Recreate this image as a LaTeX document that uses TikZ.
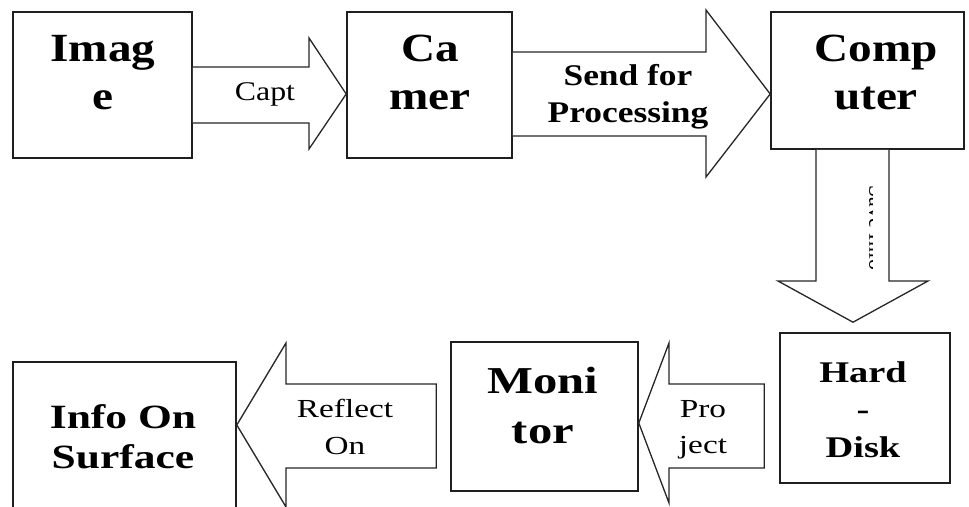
\documentclass[tikz,border=0pt]{standalone}
\usepackage{fontspec}
\setmainfont{Liberation Serif}
\newfontfamily\topf{Liberation Serif}[FakeStretch=1.18]
\newfontfamily\botf{Liberation Serif}[FakeStretch=1.28]
\usetikzlibrary{calc}
\begin{document}
\begin{tikzpicture}[x=1pt,y=-1pt,
  box/.style={draw=black!88,line width=1.6pt,inner sep=0pt,fill=white},
  barrow/.style={draw=black!85,line width=1.3pt,line join=miter,fill=white},
  lbl/.style={align=center,inner sep=0pt,text=black}]
\useasboundingbox (0,0) rectangle (969,506);
\clip (0,0) rectangle (969,506);

% boxes
\node[box,minimum width=179pt,minimum height=146pt] (img)  at (102.5,85) {};
\node[box,minimum width=165pt,minimum height=146pt] (cam)  at (429.5,85) {};
\node[box,minimum width=193pt,minimum height=137pt] (comp) at (867.5,80.5) {};
\node[box,minimum width=170pt,minimum height=150pt] (hd)   at (865,408) {};
\node[box,minimum width=187pt,minimum height=149pt] (mon)  at (544.5,416.5) {};
\node[box,minimum width=223pt,minimum height=200pt] (info) at (124.5,462) {};

% block arrows
\draw[barrow] ([yshift=18pt]img.east) -- (309,67) -- (309,38) -- ([yshift=-9pt]cam.west)
  -- (309,149) -- (309,123) -- ([yshift=-38pt]img.east);
\draw[barrow] ([yshift=33pt]cam.east) -- (706,52) -- (706,10) -- ([yshift=-13.5pt]comp.west)
  -- (706,177) -- (706,136) -- ([yshift=-51pt]cam.east);
\draw[barrow] ([xshift=-51.5pt]comp.south) -- (816,281) -- (778,281) -- ([xshift=-12pt,yshift=10pt]hd.north)
  -- (928,281) -- (889,281) -- ([xshift=21.5pt]comp.south);
\draw[barrow] ([xshift=-15pt,yshift=24pt]hd.west) -- (669,384) -- (669,343) -- ([yshift=-6.5pt]mon.east)
  -- (669,503) -- (669,468) -- ([xshift=-15pt,yshift=-60pt]hd.west) -- cycle;
\draw[barrow] ([xshift=-14pt,yshift=32.5pt]mon.west) -- (286,384) -- (286,343) -- ([yshift=37pt]info.east)
  -- (286,507) -- (286,468) -- ([xshift=-14pt,yshift=-51.5pt]mon.west) -- cycle;

% box texts
\node[lbl,font=\topf\bfseries\fontsize{40}{48}\selectfont] (imgt)  at (103,72.5) {Imag\\e};
\node[lbl,font=\topf\bfseries\fontsize{40}{48}\selectfont] (camt)  at (430,72.5) {Ca\\mer};
\node[lbl,font=\topf\bfseries\fontsize{40}{48}\selectfont] (compt) at (876,72.5) {Comp\\uter};
\node[lbl,font=\botf\bfseries\fontsize{30}{37.5}\selectfont] (hdt)  at (863,409.5) {Hard\\-\\Disk};
\node[lbl,font=\botf\bfseries\fontsize{38}{50}\selectfont] (mont)  at (543,405.5) {Moni\\tor};
\node[lbl,font=\botf\bfseries\fontsize{34}{40}\selectfont] (infot) at (123,437) {Info On\\Surface};

% arrow texts
\node[lbl,anchor=base,font=\topf\fontsize{27}{32}\selectfont] (captt) at (265,100) {Capt};
\node[lbl,font=\topf\bfseries\fontsize{30}{37}\selectfont] (sendt) at (628,96.5) {Send for\\Processing};
\node[lbl,font=\botf\fontsize{26}{36}\selectfont] (projt) at (703,429.5) {Pro\\ject};
\node[lbl,font=\botf\fontsize{26}{37}\selectfont] (reft) at (345,427) {Reflect\\On};
\begin{scope}
  \clip (864,165) rectangle (872,290);
  \node[lbl,rotate=-90,font=\fontsize{22}{22}\selectfont] (savet) at (877,228) {Save Info};
\end{scope}
\end{tikzpicture}
\end{document}
